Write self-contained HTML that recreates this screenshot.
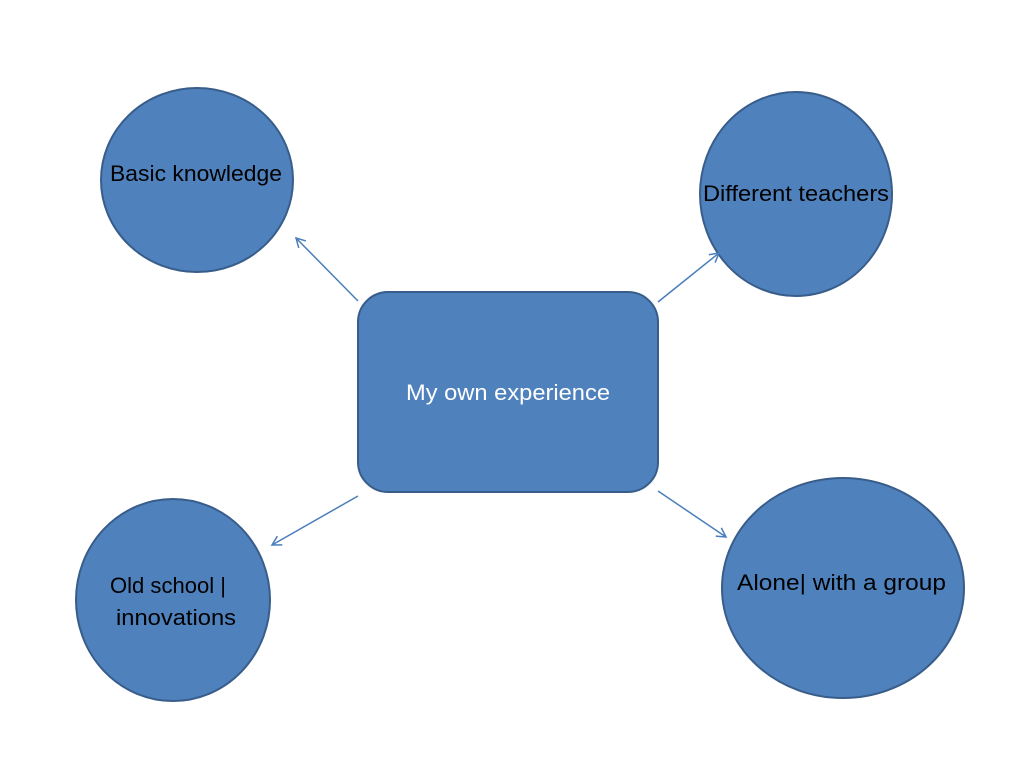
<!DOCTYPE html>
<html><head><style>body{margin:0;background:#fff}svg{display:block}</style></head><body>
<svg width="1024" height="767" xmlns="http://www.w3.org/2000/svg" font-family="Liberation Sans, sans-serif">
<defs><marker id="a" markerWidth="12" markerHeight="12" refX="10" refY="6" orient="auto" markerUnits="userSpaceOnUse"><path d="M1,1 L10,6 L1,11" fill="none" stroke="#4A7EBB" stroke-width="1.5"/></marker></defs>
<g fill="#4F81BD" stroke="#385D8A" stroke-width="2">
<ellipse cx="197" cy="180" rx="96" ry="92"/>
<ellipse cx="796" cy="194" rx="96" ry="102"/>
<ellipse cx="173" cy="600" rx="97" ry="101"/>
<ellipse cx="843" cy="588" rx="121" ry="110"/>
<rect x="358" y="292" width="300" height="200" rx="30"/>
</g>
<g stroke="#4A7EBB" stroke-width="1.5" marker-end="url(#a)">
<line x1="358" y1="301" x2="296" y2="238"/>
<line x1="658" y1="302" x2="719" y2="253"/>
<line x1="358" y1="496" x2="272" y2="545"/>
<line x1="658" y1="491" x2="726" y2="537"/>
</g>
<g font-size="22" fill="#000" lengthAdjust="spacingAndGlyphs">
<text x="110" y="181" textLength="172" lengthAdjust="spacingAndGlyphs">Basic knowledge</text>
<text x="703" y="201" textLength="186" lengthAdjust="spacingAndGlyphs">Different teachers</text>
<text x="110" y="593" textLength="116" lengthAdjust="spacingAndGlyphs">Old school |</text>
<text x="116" y="625" textLength="120" lengthAdjust="spacingAndGlyphs">innovations</text>
<text x="737" y="590" textLength="209" lengthAdjust="spacingAndGlyphs">Alone| with a group</text>
<text x="406" y="400" textLength="204" lengthAdjust="spacingAndGlyphs" fill="#fff">My own experience</text>
</g>
</svg>
</body></html>
